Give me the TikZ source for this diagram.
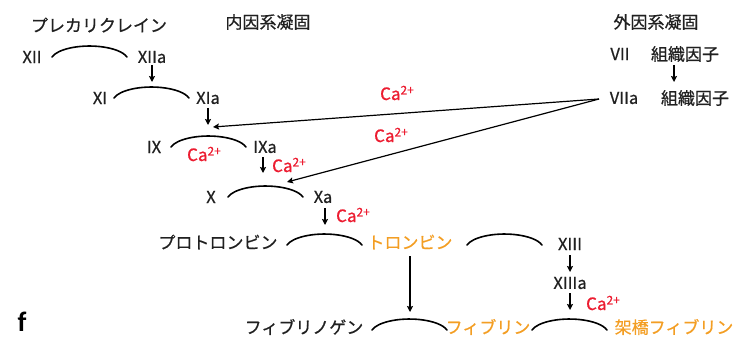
\documentclass[tikz,border=0pt]{standalone}
\usepackage{fontspec}
\setmainfont{Noto Sans CJK JP}[FakeBold=0.6]
\newfontfamily\ffont{Carlito}[BoldFont={* Bold}]
\usetikzlibrary{arrows.meta}
\definecolor{cared}{RGB}{236,28,48}
\definecolor{orng}{RGB}{243,158,36}
\definecolor{txt}{RGB}{32,32,32}
\newcommand\caion{{\fontsize{17}{19}\selectfont Ca\raisebox{0.6ex}{\fontsize{12}{12}\selectfont 2+}}}
\begin{document}
\begin{tikzpicture}[x=1pt,y=-1pt,
  every node/.style={inner sep=0pt,text=txt,font=\fontsize{16.5}{19}\selectfont},
  jp/.style={font=\fontsize{17}{20}\selectfont},
  redt/.style={text=cared},
  orgt/.style={text=orng,jp},
  arcline/.style={line width=1.6pt,line cap=round},
  arr/.style={line width=1.2pt,-{Stealth[length=6pt,width=6pt,inset=1pt]}}]
\useasboundingbox (0,0) rectangle (735,342);
% titles
\node[jp] (pk) at (99,25) {プレカリクレイン};
\node[jp] (intr) at (268,22) {内因系凝固};
\node[jp] (extr) at (656,22) {外因系凝固};
% row XII
\node (xii) at (32,57) {XII};
\node (xiia) at (152,57) {XIIa};
\draw[arcline] (52,57) arc[start angle=165,end angle=15,x radius=38.8pt,y radius=14.8pt];
% extrinsic
\node (vii) at (620,54) {VII};
\node[jp] (tf1) at (685,54) {組織因子};
\node (viia) at (624,98) {VIIa};
\node[jp] (tf2) at (695,98) {組織因子};
\coordinate (a10) at (674,82);
\draw[arr] ([yshift=-11pt]tf1.center -| a10) -- (a10);
% row XI
\node (xi) at (100,98) {XI};
\node (xia) at (208,98) {XIa};
\draw[arcline] (114,98) arc[start angle=165,end angle=15,x radius=38.8pt,y radius=14.8pt];
\coordinate (a1) at (152,82);
\draw[arr] ([yshift=-8pt]xiia.center -| a1) -- (a1);
% row IX
\node (ix) at (154,147) {IX};
\node[redt] (ca3) at (204,154) {\caion};
\node (ixa) at (265,147) {IXa};
\draw[arcline] (171,147) arc[start angle=165,end angle=15,x radius=38.8pt,y radius=14.8pt];
\coordinate (a2) at (208,125);
\draw[arr] ([yshift=-10pt]xia.center -| a2) -- (a2);
\coordinate (v0) at (599,99);
\coordinate (a3) at (213,127);
\draw[arr] (v0) -- (a3);
\node[redt] (ca1) at (397,93) {\caion};
\node[redt] (ca2) at (391,135) {\caion};
% row X
\coordinate (a4) at (263,173);
\draw[arr] ([yshift=-10pt]ixa.center -| a4) -- (a4);
\node[redt] (ca4) at (289,165) {\caion};
\coordinate (a5) at (287,182);
\draw[arr] (v0) -- (a5);
\node (x) at (211,197) {X};
\node (xa) at (323,197) {Xa};
\draw[arcline] (228,197) arc[start angle=165,end angle=15,x radius=38.8pt,y radius=14.8pt];
% row prothrombin
\coordinate (a6) at (325,225);
\draw[arr] ([yshift=-11pt]xa.center -| a6) -- (a6);
\node[redt] (ca5) at (353,215) {\caion};
\node[jp] (proth) at (218,242) {プロトロンビン};
\draw[arcline] (287,245) arc[start angle=165,end angle=15,x radius=38.8pt,y radius=14.8pt];
\node[orgt] (thr) at (410,242) {トロンビン};
\draw[arcline] (467,245) arc[start angle=165,end angle=15,x radius=38.8pt,y radius=14.8pt];
\node (xiii) at (570,244) {XIII};
\coordinate (a7) at (570,272);
\draw[arr] ([yshift=-11pt]xiii.center -| a7) -- (a7);
\node (xiiia) at (570,283) {XIIIa};
\coordinate (a8) at (570,310);
\draw[arr] ([yshift=-10pt]xiiia.center -| a8) -- (a8);
\node[redt] (ca6) at (603,303) {\caion};
\coordinate (a9) at (410,312);
\draw[arr] ([yshift=-14pt]thr.center -| a9) -- (a9);
% row fibrinogen
\node[jp] (fbg) at (304,327) {フィブリノゲン};
\draw[arcline] (372,330) arc[start angle=165,end angle=15,x radius=38.8pt,y radius=14.8pt];
\node[orgt] (fib) at (488,327) {フィブリン};
\draw[arcline] (532,330) arc[start angle=165,end angle=15,x radius=38.8pt,y radius=14.8pt];
\node[orgt] (xfib) at (674,327) {架橋フィブリン};
\node[font=\ffont\fontsize{28}{30}\selectfont\bfseries,text=black] (f) at (22,322) {f};
\end{tikzpicture}
\end{document}
